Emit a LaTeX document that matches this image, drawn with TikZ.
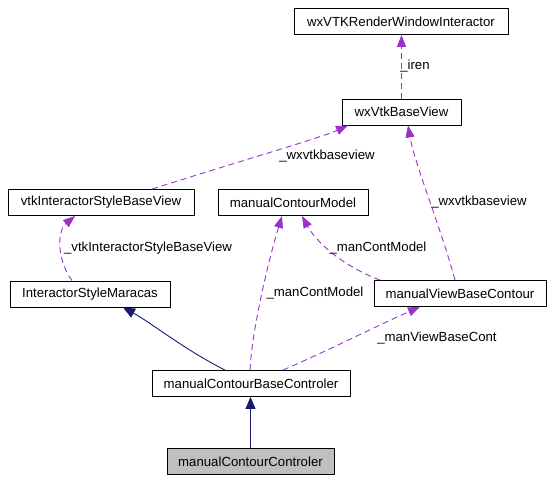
\documentclass[tikz,border=0pt]{standalone}
\usepackage{fontspec}
\setmainfont{Liberation Sans}
\usetikzlibrary{arrows.meta}
\definecolor{inh}{HTML}{191970}
\definecolor{usg}{HTML}{9A32CD}
\definecolor{cur}{HTML}{BFBFBF}
\begin{document}
\begin{tikzpicture}[x=1pt,y=-1pt,font=\fontsize{13.2}{15}\selectfont, line width=0.9pt, line join=round,
	cls/.style={draw, minimum height=26pt, inner sep=0pt},
	inhe/.style={color=inh, -{Triangle[length=12pt,width=10pt]}},
	usee/.style={color=usg, dash pattern=on 6pt off 4pt, -{Triangle[length=12pt,width=9pt]}},
	lbl/.style={inner sep=0pt}]
			\useasboundingbox (0,0) rectangle (555,482);
			% Lop
			\node[cls, minimum width=214pt] (rwi) at (401,21.5) {wxVTKRenderWindowInteractor};
			\node[cls, minimum width=119pt] (bv) at (401.5,112) {wxVtkBaseView};
			\node[cls, minimum width=186pt] (isbv) at (101,202.5) {vtkInteractorStyleBaseView};
			\node[cls, minimum width=150pt] (cm) at (293,202.5) {manualContourModel};
			\node[cls, minimum width=160pt] (ism) at (90,294) {InteractorStyleMaracas};
			\node[cls, minimum width=172pt] (vbc) at (460,293.5) {manualViewBaseContour};
			\node[cls, minimum width=198pt] (cbc) at (251,383.5) {manualContourBaseControler};
			\node[cls, minimum width=167pt, fill=cur] (cc) at (250.5,461.5) {manualContourControler};
			% Ke thua
			\draw[inhe] (cc.north) -- (cc.north |- cbc.south);
			\draw[inhe] ([xshift=-26pt]cbc.north) .. controls (185,350) and (150,322) .. ([xshift=33pt]ism.south);
			% Thanh vien
			\draw[usee] ([xshift=-1pt]cbc.north) .. controls (252,330) and (268,262) .. ([xshift=-11pt]cm.south);
			\draw[usee] ([xshift=32pt]cbc.north) .. controls (325,352) and (385,322) .. ([xshift=-40pt]vbc.south);
			\draw[usee] ([xshift=-80pt]vbc.north) .. controls (340,265) and (315,240) .. ([xshift=9pt]cm.south);
			\draw[usee] ([xshift=-5pt]vbc.north) .. controls (440,225) and (415,165) .. ([xshift=6.5pt]bv.south);
			\draw[usee] ([xshift=51pt]isbv.north) .. controls (250,158) and (320,138) .. ([xshift=-53.5pt]bv.south);
			\draw[usee] ([xshift=-18pt]ism.north) .. controls (58,262) and (56,232) .. ([xshift=-26pt]isbv.south);
			\draw[usee] (bv.north) -- (bv.north |- rwi.south);
			% Nhan
			\node[lbl] (l1) at (415,66) {\_iren};
			\node[lbl] (l2) at (327,156) {\_wxvtkbaseview};
			\node[lbl] (l3) at (479,202) {\_wxvtkbaseview};
			\node[lbl] (l4) at (148,248) {\_vtkInteractorStyleBaseView};
			\node[lbl] (l5) at (378,248) {\_manContModel};
			\node[lbl] (l6) at (315,293) {\_manContModel};
			\node[lbl] (l7) at (437,338) {\_manViewBaseCont};
\end{tikzpicture}
\end{document}
